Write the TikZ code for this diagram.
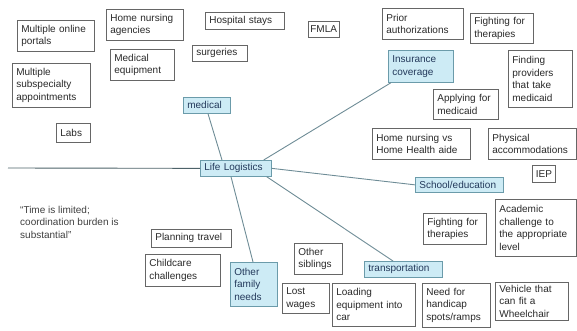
\documentclass[tikz,border=0pt]{standalone}
\usepackage{fontspec}
\setmainfont{Liberation Sans}
\usetikzlibrary{calc}
\definecolor{boxline}{HTML}{666666}
\definecolor{bluefill}{HTML}{CDEBF5}
\definecolor{blueline}{HTML}{6B9BAA}
\definecolor{conn}{HTML}{6E8C96}
\definecolor{txt}{HTML}{2A2A2A}
\definecolor{bluetxt}{HTML}{23395B}
\newcommand{\bx}[7][box]{%
  \pgfmathsetmacro\bxw{#5-#3}\pgfmathsetmacro\bxh{#6-#4}\pgfmathsetmacro\bxt{#5-#3-8}%
  \node[#1, minimum width=\bxw pt, minimum height=\bxh pt, text width=\bxt pt] (#2) at (#3,#4) {#7};}
\newcommand{\sbx}[7][box]{%
  \pgfmathsetmacro\bxw{#5-#3}\pgfmathsetmacro\bxh{#6-#4}%
  \node[#1, minimum width=\bxw pt, minimum height=\bxh pt, inner xsep=2pt, align=center] (#2) at (#3,#4) {#7};}
\begin{document}
\begin{tikzpicture}[x=1pt,y=-1pt,
  box/.style={draw=boxline, line width=0.7pt, fill=white, anchor=north west, align=left,
    inner xsep=4pt, inner ysep=1.5pt, text=txt, font=\fontsize{10}{12.5}\selectfont},
  bbox/.style={box, draw=blueline, fill=bluefill, text=bluetxt},
  link/.style={draw=conn, line width=0.9pt}]
\useasboundingbox (0,0) rectangle (577,331);
% boxes
\bx{portals}{17}{20}{94}{51}{Multiple online\\portals}
\bx{agencies}{106}{9}{183}{40}{Home nursing\\agencies}
\bx{hospital}{205}{12}{284}{29}{Hospital stays}
\sbx{fmla}{308}{21}{337}{37}{FMLA}
\bx{prior}{382}{8}{463}{39}{Prior\\authorizations}
\bx{fighttop}{470}{13}{533}{43}{Fighting for\\therapies}
\bx{equip}{110}{49}{174}{80}{Medical\\equipment}
\bx{surgeries}{192}{45}{247}{61}{surgeries}
\bx{subspec}{12}{63}{90}{107}{Multiple\\subspecialty\\appointments}
\bx[bbox]{insurance}{388}{50}{453}{82}{Insurance\\coverage}
\bx{finding}{508}{50}{572}{107}{Finding\\providers\\that take\\medicaid}
\bx[bbox]{medical}{183}{97}{230}{113}{medical}
\bx{applying}{433}{89}{498}{119}{Applying for\\medicaid}
\bx{labs}{56}{123}{90}{142}{Labs}
\bx{nursevs}{372}{128}{470}{159}{Home nursing vs\\Home Health aide}
\bx{physical}{488}{128}{576}{159}{Physical\\accommodations}
\bx[bbox]{lifelog}{200}{160}{271}{176}{Life Logistics}
\sbx{iep}{532}{165}{555}{182}{IEP}
\bx[bbox]{school}{415}{177}{503}{192}{School/education}
\bx{fightbot}{423}{213}{486}{244}{Fighting for\\therapies}
\bx{academic}{495}{199}{576}{256}{Academic\\challenge to\\the appropriate\\level}
\bx{planning}{151}{229}{231}{247}{Planning travel}
\bx{childcare}{145}{254}{220}{286}{Childcare\\challenges}
\bx[bbox]{otherfamily}{230}{262}{277}{306}{Other\\family\\needs}
\bx{siblings}{294}{243}{342}{274}{Other\\siblings}
\bx[bbox]{transport}{364}{261}{442}{277}{transportation}
\bx{lostwages}{282}{283}{329}{313}{Lost\\wages}
\bx{loading}{332}{283}{415}{326}{Loading\\equipment into\\car}
\bx{handicap}{422}{283}{490}{327}{Need for\\handicap\\spots/ramps}
\bx{vehicle}{495}{282}{568}{320}{Vehicle that\\can fit a\\Wheelchair}
\node[anchor=north west, align=left, inner sep=0pt, text=txt!90, font=\fontsize{10}{12.5}\selectfont] (quote) at (20,206)
  {“Time is limited;\\coordination burden is\\substantial”};
% connectors
\coordinate (hl) at (8,168);
\draw[link, draw=conn!70!black] (hl) -- (lifelog.west);
\draw[link] ($(lifelog.north west)+(22,0)$) -- ($(medical.south west)+(25,0)$);
\draw[link] ($(lifelog.north east)+(-8,0)$) -- ($(insurance.south west)+(3,0)$);
\draw[link] (lifelog.east) -- (school.west);
\draw[link] ($(lifelog.south east)+(-5,0)$) -- ($(transport.north west)+(29,0)$);
\draw[link] ($(lifelog.south west)+(31,0)$) -- ($(otherfamily.north west)+(23,0)$);
\end{tikzpicture}
\end{document}
